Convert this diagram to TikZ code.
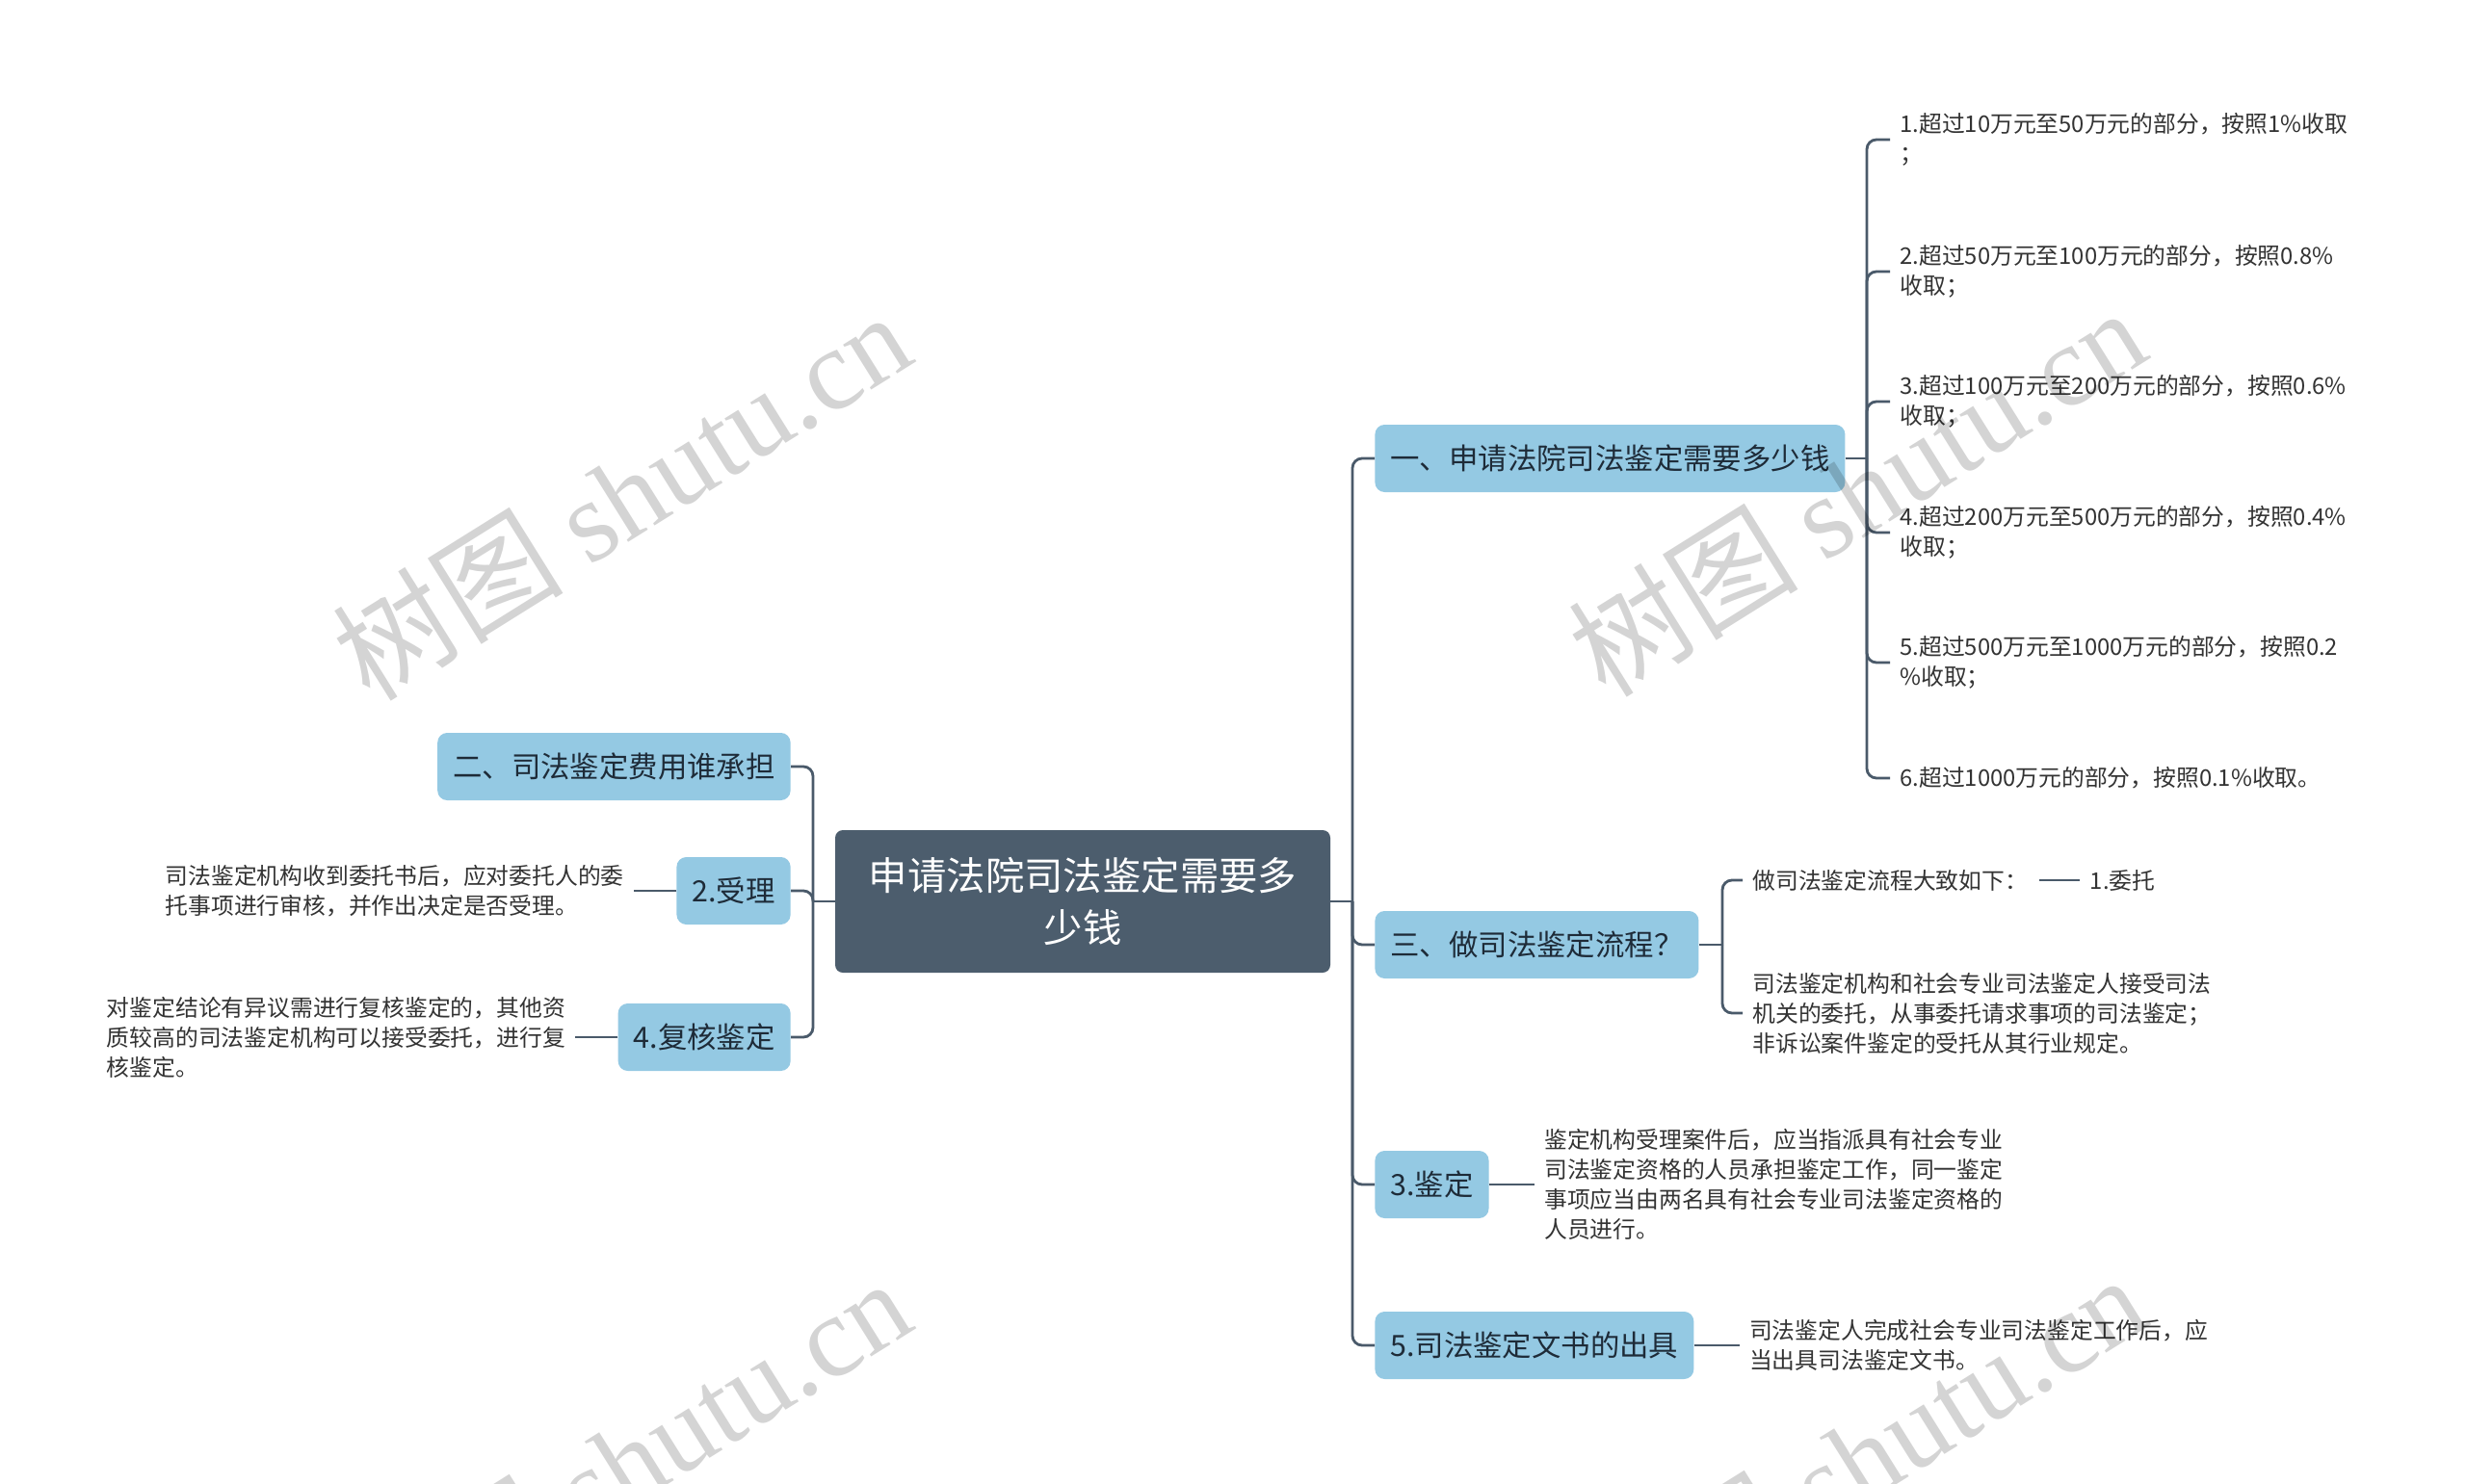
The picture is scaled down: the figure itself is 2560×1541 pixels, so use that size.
\documentclass[tikz,border=0pt]{standalone}
\usepackage{fontspec}
\setmainfont{Noto Sans CJK SC}
\newfontfamily\wmlatin{Liberation Serif}
\usepackage{xcolor}
\usetikzlibrary{positioning}

\definecolor{rootfill}{HTML}{4C5D6D}
\definecolor{topicfill}{HTML}{94C9E3}
\definecolor{linkc}{HTML}{4A5A6A}
\definecolor{topictext}{HTML}{1E2B38}
\definecolor{leaftext}{HTML}{333333}

\begin{document}
\begin{tikzpicture}[x=0.5pt, y=-0.5pt,
  root/.style={fill=rootfill, rounded corners=4pt, text=white, align=center, font=\fontsize{20.2pt}{27pt}\selectfont, minimum width=257pt, minimum height=74pt},
  topic/.style={fill=topicfill, rounded corners=5pt, text=topictext, font=\fontsize{15.2pt}{18pt}\selectfont, inner xsep=8pt, minimum height=35pt},
  leaf/.style={text=leaftext, align=left, font=\fontsize{11.9pt}{15.5pt}\selectfont, inner xsep=5pt, inner ysep=2pt},
  link/.style={draw=linkc, line width=1.4pt, rounded corners=5pt},
  wmark/.style={text=black, opacity=0.17, rotate=32, font=\fontsize{60pt}{60pt}\selectfont}]
\useasboundingbox (0,0) rectangle (2560,1541);
\fill[white] (0,0) rectangle (2560,1541);

% centre and first level
\node[root] (root) at (1124,936) {申请法院司法鉴定需要多\\少钱};
\node[topic, anchor=west] (n1) at (1427,476) {一、申请法院司法鉴定需要多少钱};
\node[topic, anchor=west] (n3) at (1427,981) {三、做司法鉴定流程？};
\node[topic, anchor=west] (n5) at (1427,1230) {3.鉴定};
\node[topic, anchor=west] (n7) at (1427,1397) {5.司法鉴定文书的出具};
\node[topic, anchor=east] (n2) at (821,796) {二、司法鉴定费用谁承担};
\node[topic, anchor=east] (n4) at (821,925) {2.受理};
\node[topic, anchor=east] (n6) at (821,1077) {4.复核鉴定};

% fee table
\node[leaf, anchor=west] (c1) at (1962,145) {1.超过10万元至50万元的部分，按照1\%收取\\；};
\node[leaf, anchor=west] (c2) at (1962,282) {2.超过50万元至100万元的部分，按照0.8\%\\收取；};
\node[leaf, anchor=west] (c3) at (1962,417) {3.超过100万元至200万元的部分，按照0.6\%\\收取；};
\node[leaf, anchor=west] (c4) at (1962,553) {4.超过200万元至500万元的部分，按照0.4\%\\收取；};
\node[leaf, anchor=west] (c5) at (1962,688) {5.超过500万元至1000万元的部分，按照0.2\\\%收取；};
\node[leaf, anchor=west] (c6) at (1962,808) {6.超过1000万元的部分，按照0.1\%收取。};

% process
\node[leaf, anchor=west] (s3a) at (1809,914) {做司法鉴定流程大致如下：};
\node[leaf, right=22pt of s3a] (s3b) {1.委托};
\node[leaf, anchor=west] (s3c) at (1809,1052) {司法鉴定机构和社会专业司法鉴定人接受司法\\机关的委托，从事委托请求事项的司法鉴定；\\非诉讼案件鉴定的受托从其行业规定。};
\node[leaf, right=23.5pt of n5] (t5) {鉴定机构受理案件后，应当指派具有社会专业\\司法鉴定资格的人员承担鉴定工作，同一鉴定\\事项应当由两名具有社会专业司法鉴定资格的\\人员进行。};
\node[leaf, right=23.5pt of n7] (t7) {司法鉴定人完成社会专业司法鉴定工作后，应\\当出具司法鉴定文书。};
\node[leaf, left=22pt of n4] (t4) {司法鉴定机构收到委托书后，应对委托人的委\\托事项进行审核，并作出决定是否受理。};
\node[leaf, left=22pt of n6] (t6) {对鉴定结论有异议需进行复核鉴定的，其他资\\质较高的司法鉴定机构可以接受委托，进行复\\核鉴定。};

% links
\coordinate (rs) at (1404,936);
\coordinate (ls) at (844,936);
\coordinate (s1) at (1938,476);
\coordinate (s3) at (1788,981);
\draw[link] (root.east) -- (rs);
\draw[link] (root.west) -- (ls);
\foreach \n in {n1,n3,n5,n7} \draw[link] (rs) |- (\n.west);
\foreach \n in {n2,n4,n6} \draw[link] (ls) |- (\n.east);
\draw[link] (n1.east) -- (s1);
\foreach \i in {1,...,6} \draw[link] (s1) |- (c\i.west);
\draw[link] (n3.east) -- (s3);
\draw[link] (s3) |- (s3a.west);
\draw[link] (s3) |- (s3c.west);
\draw[link, shorten <=1pt] (s3a) -- (s3b);
\draw[link] (n5) -- (t5);
\draw[link] (n7) -- (t7);
\draw[link] (n4) -- (t4);
\draw[link] (n6) -- (t6);

% watermark
\foreach \p [count=\k] in {(645,514),(1927,510),(645,1518),(1927,1514)}
  \node[wmark] (wm\k) at \p {树图 {\wmlatin shutu.cn}};
\end{tikzpicture}
\end{document}
